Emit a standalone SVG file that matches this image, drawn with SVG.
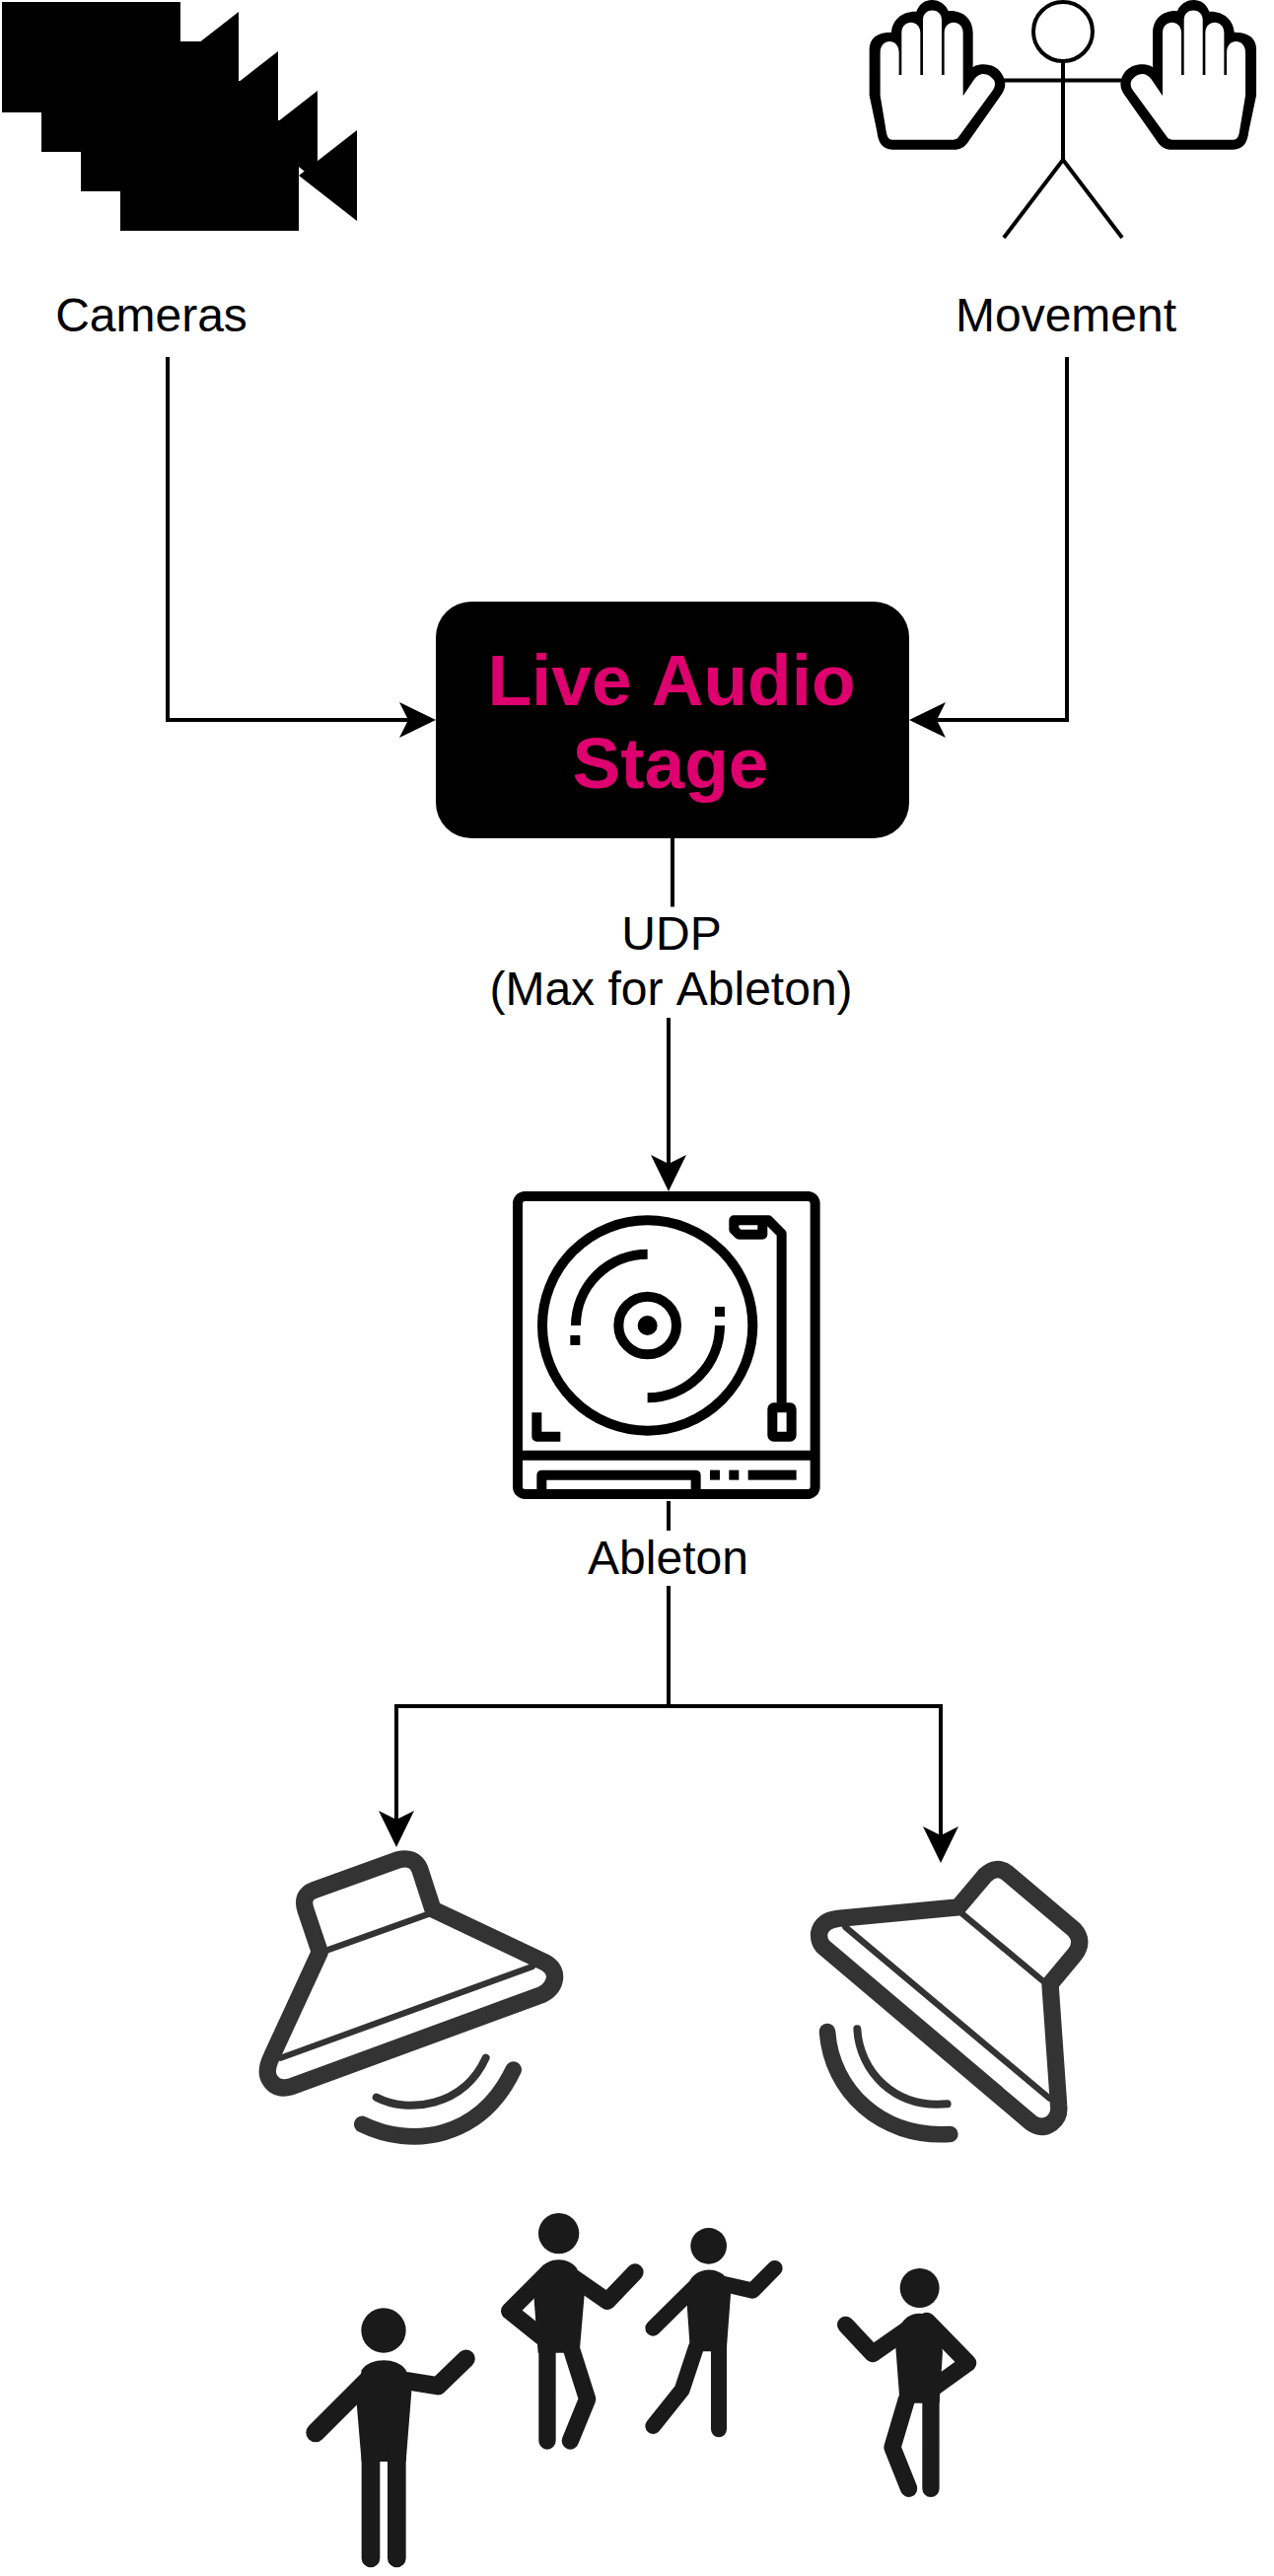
<svg xmlns="http://www.w3.org/2000/svg" xmlns:xlink="http://www.w3.org/1999/xlink" width="1292" height="2612" viewBox="0 0 1292 2612">
<style>
text{font-family:"Liberation Sans",Arial,sans-serif;font-size:48px;fill:#000;text-anchor:middle;font-kerning:none}
.title{font-size:73px;font-weight:bold;fill:#de006e}
.conn{fill:none;stroke:#000;stroke-width:4}
.arrow{marker-end:url(#arr)}
.tt{fill:none;stroke:#000;stroke-width:30}
.sp{fill:none;stroke:#333;stroke-linejoin:round;stroke-linecap:round}
.thick{stroke-width:52}
.thin{stroke-width:19}
.wave1{stroke-width:24}
.wave2{stroke-width:50}
.p{fill:#1a1a1a}
.limb{fill:none;stroke:#1a1a1a;stroke-linecap:round;stroke-linejoin:round}
</style>
<defs>
<marker id="arr" viewBox="0 0 37 36" markerUnits="userSpaceOnUse" markerWidth="37" markerHeight="36" refX="9" refY="18" orient="auto">
<polygon points="0,0 37,18 0,36 9,18" fill="#000"/>
</marker>
<g id="cam"><rect x="2" y="2" width="181" height="112"/><polygon points="242,12 242,104 183,58"/></g>
<g id="hand">
<path fill="#000" d="M65,150 C65,115 90,98 132,98 C135,60 165,33 208,35 C218,10 235,0 255,0 C280,0 298,15 305,33 C350,30 380,58 380,100 L380,205 C395,190 470,185 478,255 C478,270 472,280 465,290 L370,425 C355,448 345,455 320,455 L135,455 C105,455 92,435 88,400 L65,290 Z"/>
<path fill="#fff" d="M98,290 L98,160 C98,115 155,115 155,160 L155,228 L163,228 L163,100 C163,58 220,58 220,100 L220,228 L228,228 L228,60 C228,22 285,22 285,60 L285,228 L293,228 L293,100 C293,58 350,58 350,100 L350,292 L385,240 C405,215 430,225 445,245 C450,258 445,268 440,275 L340,412 C335,420 330,425 320,425 L135,425 C125,425 120,418 117,405 Z"/>
</g>
</defs>
<rect width="1292" height="2612" fill="#fff"/>
<g id="cameras">
<use xlink:href="#cam" href="#cam"/>
<use xlink:href="#cam" href="#cam" x="40" y="40"/>
<use xlink:href="#cam" href="#cam" x="80" y="80"/>
<use xlink:href="#cam" href="#cam" x="120" y="120"/>
<text x="153.500" y="336">Cameras</text>
</g>
<g id="movement">
<circle cx="1078" cy="32" r="30" fill="#fff" stroke="#000" stroke-width="4"/>
<path d="M1078,62 V162 M1018,81.500 H1138 M1018,241 L1078,162 L1138,241" fill="none" stroke="#000" stroke-width="4"/>
<use xlink:href="#hand" href="#hand" transform="translate(860 0) scale(.3333)"/>
<use xlink:href="#hand" href="#hand" transform="translate(1295.700 0) scale(-.3333 .3333)"/>
<text x="1081" y="336">Movement</text>
</g>
<g id="connectors">
<path class="conn arrow" d="M170,362 V730 H414"/>
<path class="conn arrow" d="M1082,362 V730 H950"/>
<path class="conn" d="M682,850 V919.500"/>
<path class="conn arrow" d="M678,1032 V1180"/>
<path class="conn" d="M678,1522 V1552"/>
<path class="conn" d="M678,1608 V1730"/>
<path class="conn arrow" d="M678,1730 H402 V1845"/>
<path class="conn arrow" d="M678,1730 H954 V1861"/>
</g>
<g id="live-audio-stage">
<rect x="442" y="610" width="480" height="240" rx="36" ry="36" fill="#000"/>
<text class="title" x="681" y="715">Live Audio</text>
<text class="title" x="680" y="799">Stage</text>
</g>
<g id="udp-label">
<text x="681" y="963">UDP</text>
<text x="680.500" y="1019">(Max for Ableton)</text>
</g>
<g id="ableton" transform="translate(500 1200) scale(.3333)">
<rect class="tt" x="75" y="39" width="905" height="906" rx="22"/>
<path class="tt" d="M75,827 H980"/>
<circle class="tt" cx="470" cy="432" r="320"/>
<path class="tt" d="M470,215 A218,218 0 0 0 252,432"/>
<path class="tt" d="M470,652 A220,220 0 0 0 690,432"/>
<rect x="235" y="462" width="30" height="30"/>
<rect x="675" y="375" width="30" height="30"/>
<circle class="tt" cx="470" cy="432" r="88"/>
<circle cx="470" cy="432" r="30"/>
<path class="tt" d="M820,112 H733 V140 L748,155 H820 V112 H838 L878,152 V668" stroke-linejoin="round"/>
<rect class="tt" x="850" y="682" width="58" height="88" rx="4"/>
<path class="tt" d="M133,697 V770 H205" stroke-linejoin="round"/>
<path class="tt" d="M148,945 V887 H617 V945" stroke-linejoin="round"/>
<rect x="660" y="872" width="30" height="30"/>
<rect x="718" y="872" width="30" height="30"/>
<rect x="776" y="872" width="147" height="30"/>
</g>
<text id="ableton-label" x="677.500" y="1596">Ableton</text>
<g id="speaker-left" transform="translate(240 1860) scale(.3333)">
<path class="sp thick" d="M253,358 L210,230 Q195,185 235,170 L490,78 Q540,65 557,105 L597,228 L935,388 Q968,405 968,435 Q965,470 928,488 L165,768 Q120,780 100,745 Q85,720 107,675 Z"/>
<path class="sp thin" d="M277,352 L582,243 M135,680 L900,402"/>
<path class="sp wave1" d="M425,800 C520,850 690,830 758,680"/>
<path class="sp wave2" d="M382,882 C530,955 740,930 842,716"/>
</g>
<g id="speaker-right" transform="translate(800 1860) scale(.3333)">
<path class="sp thick" d="M795,455 L870,365 Q900,325 868,290 L665,118 Q632,92 597,125 L515,222 L150,256 Q100,262 92,300 Q90,325 103,340 L738,878 Q770,900 800,878 Q825,860 821,825 Z"/>
<path class="sp thin" d="M527,241 L772,445 M172,282 L793,803"/>
<path class="sp wave1" d="M208,592 C215,720 320,835 482,820"/>
<path class="sp wave2" d="M117,600 C130,780 280,925 490,912"/>
</g>
<g id="person-1" transform="translate(300 2240) scale(.3333)">
<circle class="p" cx="267" cy="369" r="68"/>
<path class="p" d="M200,490 C225,450 310,450 335,490 L352,555 L335,768 H200 L185,590 Z"/>
<path class="limb" stroke-width="58" d="M60,680 L225,515"/>
<path class="limb" stroke-width="55" d="M320,520 L432,538 L518,455"/>
<path class="limb" stroke-width="56" d="M228,740 V1062 M307,740 V1062"/>
</g>
<g id="person-2" transform="translate(300 2240) scale(.3333)">
<circle class="p" cx="800" cy="74" r="62"/>
<path class="p" d="M745,180 C770,145 830,145 855,180 L878,262 L863,437 H737 L725,275 Z"/>
<path class="limb" stroke-width="52" d="M770,190 L650,310 L750,390"/>
<path class="limb" stroke-width="52" d="M840,205 L948,280 L1032,192"/>
<path class="limb" stroke-width="52" d="M765,430 V705 M840,430 L887,578 L835,705"/>
</g>
<g id="person-3" transform="translate(640 2240) scale(.3333)">
<circle class="p" cx="236" cy="112" r="55"/>
<path class="p" d="M180,215 C205,175 265,175 290,210 L303,260 L290,433 H180 L170,290 Z"/>
<path class="limb" stroke-width="48" d="M67,362 L195,235"/>
<path class="limb" stroke-width="48" d="M270,225 L370,248 L437,180"/>
<path class="limb" stroke-width="48" d="M267,420 V670 M198,420 L155,550 L67,660"/>
</g>
<g id="person-4" transform="translate(640 2240) scale(.3333)">
<circle class="p" cx="878" cy="240" r="60"/>
<path class="p" d="M825,345 C850,308 905,308 935,345 L948,435 L938,590 H818 L805,420 Z"/>
<path class="limb" stroke-width="52" d="M653,352 L735,440 L850,360"/>
<path class="limb" stroke-width="52" d="M900,340 L1025,468 L925,540"/>
<path class="limb" stroke-width="52" d="M912,570 V850 M838,580 L795,725 L845,850"/>
</g>
</svg>
